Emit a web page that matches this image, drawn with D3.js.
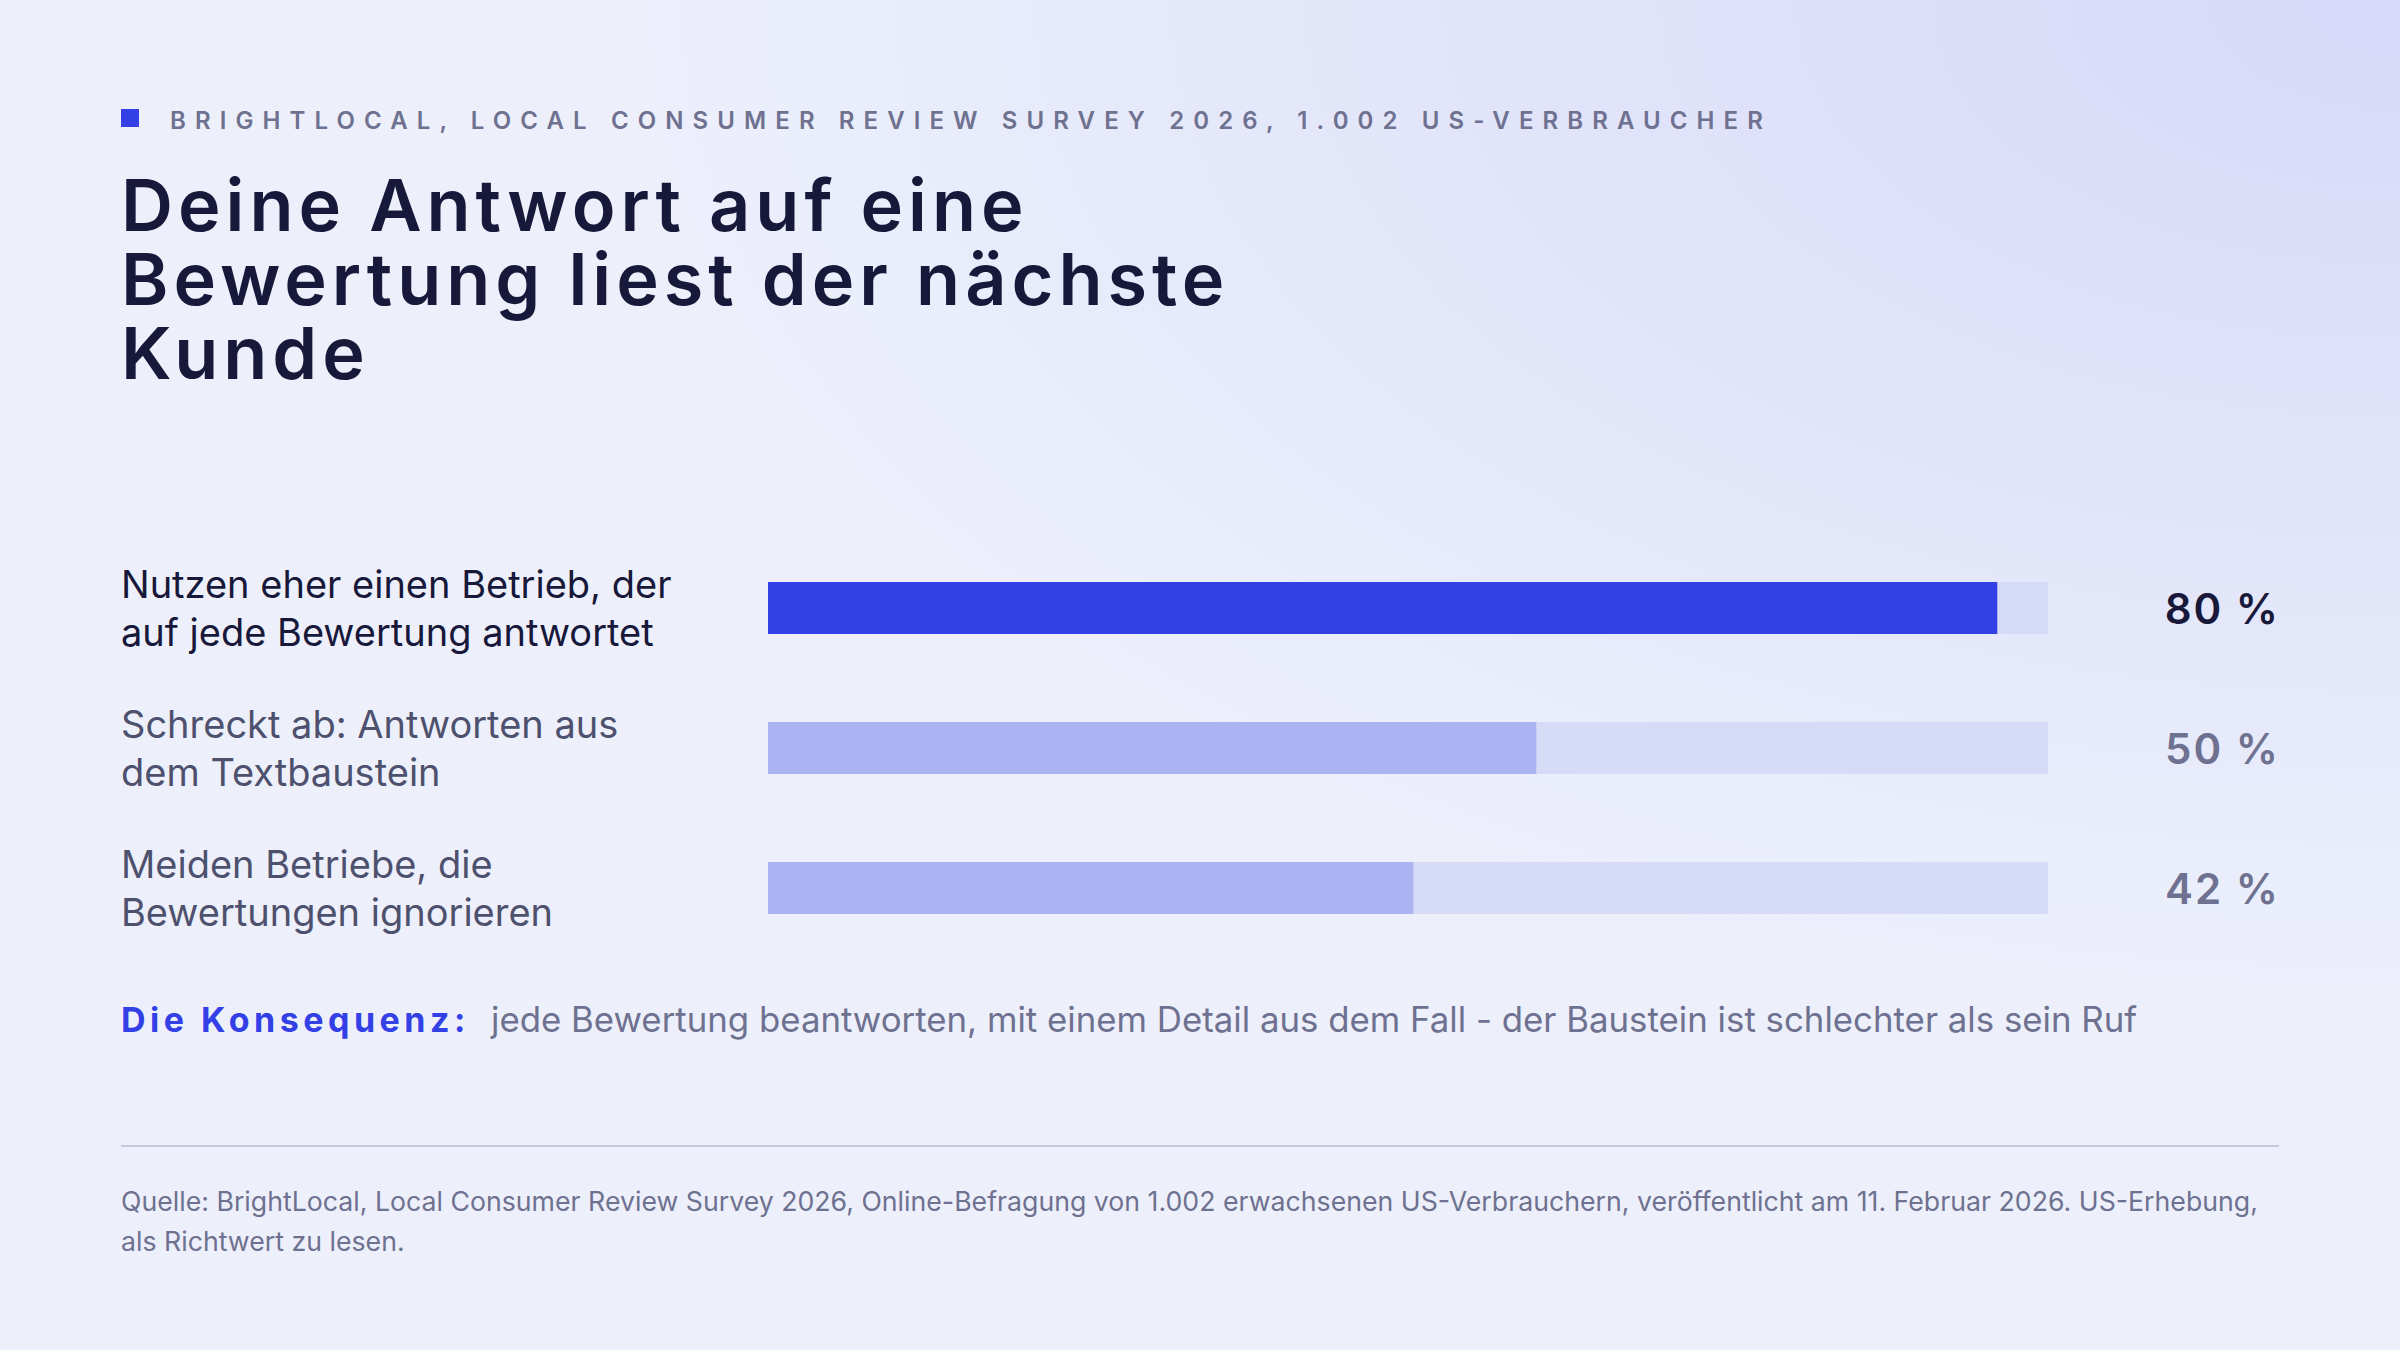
<!DOCTYPE html>
<html><head><meta charset="utf-8">
<script src="https://cdn.jsdelivr.net/npm/d3@7"></script>
<style>
html,body{margin:0;padding:0;}
body{width:2400px;height:1350px;overflow:hidden;font-family:Inter,"Noto Sans",sans-serif;}
</style></head>
<body>
<script>
// data
const labels = [
  ["Nutzen eher einen Betrieb, der", "auf jede Bewertung antwortet"],
  ["Schreckt ab: Antworten aus", "dem Textbaustein"],
  ["Meiden Betriebe, die", "Bewertungen ignorieren"]
];
const values = [80, 50, 42];
const valueLabels = ["80 %", "50 %", "42 %"];
const kicker = "BRIGHTLOCAL, LOCAL CONSUMER REVIEW SURVEY 2026, 1.002 US-VERBRAUCHER";
const titleLines = ["Deine Antwort auf eine", "Bewertung liest der nächste", "Kunde"];
const sourceLines = [
  "Quelle: BrightLocal, Local Consumer Review Survey 2026, Online-Befragung von 1.002 erwachsenen US-Verbrauchern, veröffentlicht am 11. Februar 2026. US-Erhebung,",
  "als Richtwert zu lesen."
];

const W = 2400, H = 1350;
const svg = d3.select("body").append("svg").attr("width", W).attr("height", H);

// background
const defs = svg.append("defs");
const bg = defs.append("radialGradient").attr("id", "bg")
  .attr("cx", "100%").attr("cy", "0%").attr("r", "75%");
bg.append("stop").attr("offset", "0%").attr("stop-color", "#d6d9f8");
bg.append("stop").attr("offset", "100%").attr("stop-color", "#edf0fb");
svg.append("rect").attr("width", W).attr("height", H).attr("fill", "url(#bg)");

// kicker
svg.append("rect").attr("x", 121).attr("y", 109).attr("width", 18).attr("height", 18).attr("fill", "#3340e6");
svg.append("text").attr("x", 170).attr("y", 129)
  .attr("font-size", 24).attr("font-weight", 600).attr("letter-spacing", "9.1px")
  .attr("fill", "#6e7190").text(kicker);

// title
svg.append("g").selectAll("text").data(titleLines).join("text")
  .attr("x", 121).attr("y", (d, i) => 231 + i * 74)
  .attr("font-size", 72).attr("font-weight", 600).attr("letter-spacing", "5px")
  .attr("fill", "#17183a").text(d => d);

// scales
const y = d3.scaleBand().domain(d3.range(values.length)).range([538, 958]);
const x = d3.scaleLinear().domain([0, 83.3]).range([768, 2048]);
const bh = 52;
const rows = svg.append("g").selectAll("g").data(values).join("g")
  .attr("transform", (d, i) => `translate(0,${y(i) + y.bandwidth() / 2})`);

rows.append("rect").attr("x", x(0)).attr("y", -bh / 2)
  .attr("width", x.range()[1] - x(0)).attr("height", bh).attr("fill", "#d6dbf7");
rows.append("rect").attr("x", x(0)).attr("y", -bh / 2)
  .attr("width", d => x(d) - x(0)).attr("height", bh)
  .attr("fill", (d, i) => i === 0 ? "#3340e6" : "#abb3f2");

rows.append("text").attr("x", 121)
  .attr("font-size", 38).attr("fill", (d, i) => i === 0 ? "#17183a" : "#4e516e")
  .selectAll("tspan").data((d, i) => labels[i]).join("tspan")
  .attr("x", 121).attr("y", (d, j) => j === 0 ? -10 : 38).text(d => d);

rows.append("text").attr("x", 2280).attr("y", 16).attr("text-anchor", "end")
  .attr("font-size", 42).attr("font-weight", 600).attr("letter-spacing", "2px")
  .attr("fill", (d, i) => i === 0 ? "#17183a" : "#6e7190")
  .text((d, i) => valueLabels[i]);

// conclusion
svg.append("text").attr("x", 121).attr("y", 1032)
  .attr("font-size", 34).attr("font-weight", 700).attr("letter-spacing", "4.5px")
  .attr("fill", "#3340e6").text("Die Konsequenz:");
svg.append("text").attr("x", 491).attr("y", 1032)
  .attr("font-size", 34.8).attr("fill", "#6e7190")
  .text("jede Bewertung beantworten, mit einem Detail aus dem Fall - der Baustein ist schlechter als sein Ruf");

// divider + source
svg.append("line").attr("x1", 121).attr("x2", 2279).attr("y1", 1146).attr("y2", 1146)
  .attr("stroke", "#c6c9dc").attr("stroke-width", 2);
svg.append("g").selectAll("text").data(sourceLines).join("text")
  .attr("x", 121).attr("y", (d, i) => 1211 + i * 40)
  .attr("font-size", 26.7).attr("fill", "#6e7190").text(d => d);
</script>
</body></html>
